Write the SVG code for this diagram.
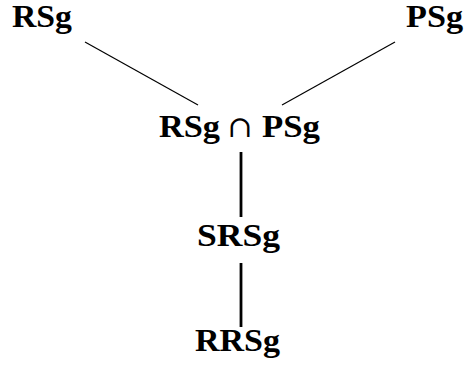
<svg xmlns="http://www.w3.org/2000/svg" width="468" height="367" viewBox="0 0 468 367">
<style>
.lbl{font-family:"Liberation Serif","DejaVu Serif",serif;font-weight:bold;font-size:31px;fill:#000;text-anchor:middle}
.op{font-family:"DejaVu Serif","Liberation Serif",serif;font-size:30px;fill:#000;text-anchor:middle}
.thin{stroke:#000;stroke-width:1.2;fill:none}
.thick{stroke:#000;stroke-width:2.8;fill:none}
</style>
<rect width="468" height="367" fill="#fff"/>
<g id="connectors">
<line class="thin" x1="85" y1="42" x2="198" y2="105"/>
<line class="thin" x1="395" y1="42" x2="282" y2="105"/>
<line class="thick" x1="241" y1="152" x2="241" y2="217"/>
<line class="thick" x1="241" y1="263" x2="241" y2="327"/>
</g>
<g id="RSg"><text class="lbl" x="42" y="27" textLength="60" lengthAdjust="spacingAndGlyphs">RSg</text></g>
<g id="PSg"><text class="lbl" x="434.5" y="27" textLength="57" lengthAdjust="spacingAndGlyphs">PSg</text></g>
<g id="RSgCapPSg">
<text class="lbl" x="189.5" y="137" textLength="61" lengthAdjust="spacingAndGlyphs">RSg</text>
<text class="op" x="240" y="137">∩</text>
<text class="lbl" x="291" y="137" textLength="58" lengthAdjust="spacingAndGlyphs">PSg</text>
</g>
<g id="SRSg"><text class="lbl" x="238.5" y="246" textLength="83" lengthAdjust="spacingAndGlyphs">SRSg</text></g>
<g id="RRSg"><text class="lbl" x="237.5" y="351" textLength="85" lengthAdjust="spacingAndGlyphs">RRSg</text></g>
</svg>
